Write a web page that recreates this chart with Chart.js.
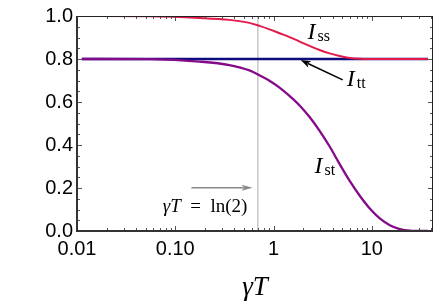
<!DOCTYPE html>
<html><head><meta charset="utf-8">
<script src="https://cdn.jsdelivr.net/npm/chart.js@4/dist/chart.umd.min.js"></script>
<style>html,body{margin:0;padding:0;background:#fff}#wrap{width:441px;height:307px;position:relative}</style>
</head><body><div id="wrap"><canvas id="c" width="441" height="307"></canvas></div>
<script>
// ---- data ----
const gammaT = [0.0112,0.0168,0.0543,0.176,0.356,0.569,0.720,0.910,1.152,1.456,1.843,2.330,2.947,3.728,4.715,5.96,7.55,9.54,12.07,15.27,19.3,24.4,37.3];
const Iss    = [1.000,1.000,0.999,0.991,0.982,0.968,0.954,0.938,0.920,0.902,0.881,0.861,0.842,0.826,0.814,0.805,0.801,0.800,0.800,0.800,0.800,0.800,0.800];
const Itt    = [0.800,0.800,0.800,0.800,0.800,0.800,0.800,0.800,0.800,0.800,0.800,0.800,0.800,0.800,0.800,0.800,0.800,0.800,0.800,0.800,0.800,0.800,0.800];
const Ist    = [0.800,0.800,0.799,0.788,0.772,0.747,0.724,0.699,0.667,0.628,0.584,0.530,0.466,0.393,0.311,0.233,0.164,0.105,0.059,0.027,0.009,0.002,0.000];
const xTicks = [0.01,0.1,1,10];
const xTickLabels = ['0.01','0.10','1','10'];
const yTicks = [0,0.2,0.4,0.6,0.8,1.0];
const yTickLabels = ['0.0','0.2','0.4','0.6','0.8','1.0'];
const xRange = [0.01, 42];
const markerValue = Math.LN2;       // gamma T = ln(2)
const markerText = ['\u03B3T', '\u2002=\u2002ln(2)'];
const xTitle = '\u03B3T';

// annotation anchors (data coordinates)
const notes = {
  ss: {x:2.22, y:0.895, main:'I', sub:'ss'},
  tt: {x:5.56, y:0.676, main:'I', sub:'tt'},
  st: {x:2.62, y:0.269, main:'I', sub:'st'},
  ttArrow: {from:[5.06,0.703], to:[1.89,0.795]},
  lnArrow: {from:[0.146,0.201], to:[0.611,0.201]},
  lnText: {x:0.543, y:0.087}
};

const pts = (ys) => gammaT.map((x,i)=>({x:x, y:ys[i]}));

function arrow(ctx, x1,y1,x2,y2,color,lw,hl,hw){
  const a = Math.atan2(y2-y1,x2-x1);
  ctx.save();
  ctx.strokeStyle=color; ctx.fillStyle=color; ctx.lineWidth=lw;
  ctx.beginPath(); ctx.moveTo(x1,y1); ctx.lineTo(x2-Math.cos(a)*hl*0.8,y2-Math.sin(a)*hl*0.8); ctx.stroke();
  ctx.beginPath();
  ctx.moveTo(x2,y2);
  ctx.lineTo(x2-Math.cos(a)*hl+Math.sin(a)*hw/2, y2-Math.sin(a)*hl-Math.cos(a)*hw/2);
  ctx.lineTo(x2-Math.cos(a)*hl*0.75, y2-Math.sin(a)*hl*0.75);
  ctx.lineTo(x2-Math.cos(a)*hl-Math.sin(a)*hw/2, y2-Math.sin(a)*hl+Math.cos(a)*hw/2);
  ctx.closePath(); ctx.fill();
  ctx.restore();
}

function subLabel(ctx, x, y, main, sub){
  ctx.save();
  ctx.fillStyle='#000'; ctx.textBaseline='alphabetic'; ctx.textAlign='left';
  ctx.font='italic 24px "Liberation Serif"';
  ctx.fillText(main,x,y);
  const w = ctx.measureText(main).width;
  ctx.font='16px "Liberation Serif"';
  ctx.fillText(sub,x+w+2,y+2);
  ctx.restore();
}

const framePlugin = {
  id:'frame',
  beforeDatasetsDraw(chart){
    const {ctx, chartArea:a, scales:{x,y}} = chart;
    const px = x.getPixelForValue(markerValue);
    ctx.save();
    ctx.strokeStyle='#c8c8c8'; ctx.lineWidth=1.5;
    ctx.beginPath(); ctx.moveTo(px,a.top); ctx.lineTo(px,a.bottom); ctx.stroke();
    ctx.restore();
  },
  afterDatasetsDraw(chart){
    const {ctx, chartArea:a, scales:{x,y}} = chart;
    ctx.save();
    // ticks
    ctx.strokeStyle='#555'; ctx.lineWidth=1;
    const yt=[];
    for(let i=0;i<yTicks.length;i++){ yt.push([yTicks[i],5]);
      if(i<yTicks.length-1){ const d=(yTicks[i+1]-yTicks[i])/4; for(let k=1;k<4;k++) yt.push([yTicks[i]+k*d,3]); } }
    yt.forEach(([v,l])=>{ const p=Math.round(y.getPixelForValue(v))+0.5;
      ctx.beginPath(); ctx.moveTo(a.left,p); ctx.lineTo(a.left+l,p);
      ctx.moveTo(a.right,p); ctx.lineTo(a.right-l,p); ctx.stroke(); });
    const xt=[];
    xTicks.forEach(d=>{ xt.push([d,5]); for(let k=2;k<10;k++) xt.push([d*k,3]); });
    xt.forEach(([v,l])=>{ if(v<xRange[0]||v>xRange[1]) return; const p=Math.round(x.getPixelForValue(v))+0.5;
      ctx.beginPath(); ctx.moveTo(p,a.bottom); ctx.lineTo(p,a.bottom-l);
      ctx.moveTo(p,a.top); ctx.lineTo(p,a.top+l); ctx.stroke(); });
    // frame
    ctx.strokeStyle='#222'; ctx.lineWidth=1;
    ctx.beginPath(); ctx.moveTo(a.left,a.top+0.5); ctx.lineTo(a.right-0.5,a.top+0.5); ctx.lineTo(a.right-0.5,a.bottom); ctx.stroke();
    ctx.strokeStyle='#333'; ctx.lineWidth=2;
    ctx.beginPath(); ctx.moveTo(a.left,a.top); ctx.lineTo(a.left,a.bottom); ctx.lineTo(a.right,a.bottom); ctx.stroke();
    // annotations
    const X=v=>x.getPixelForValue(v), Y=v=>y.getPixelForValue(v);
    ['ss','tt','st'].forEach(k=>{ const n=notes[k]; subLabel(ctx,X(n.x),Y(n.y),n.main,n.sub); });
    const ta=notes.ttArrow; arrow(ctx,X(ta.from[0]),Y(ta.from[1]),X(ta.to[0]),Y(ta.to[1]),'#000',1.5,10,7);
    const la=notes.lnArrow; arrow(ctx,X(la.from[0]),Y(la.from[1]),X(la.to[0]),Y(la.to[1]),'#888',1.5,11,6);
    // gamma T = ln(2)
    const lt=notes.lnText;
    ctx.fillStyle='#000'; ctx.textBaseline='alphabetic'; ctx.textAlign='left';
    ctx.font='italic 19px "Liberation Serif"'; const w1=ctx.measureText(markerText[0]).width;
    ctx.font='19px "Liberation Serif"'; const w2=ctx.measureText(markerText[1]).width;
    let sx=X(lt.x)-(w1+w2);
    ctx.font='italic 19px "Liberation Serif"'; ctx.fillText(markerText[0],sx,Y(lt.y));
    ctx.font='19px "Liberation Serif"'; ctx.fillText(markerText[1],sx+w1,Y(lt.y));
    ctx.restore();
  }
};

new Chart(document.getElementById('c'), {
  type:'line',
  data:{datasets:[
    {label:'Iss', data:pts(Iss), borderColor:'#e3194b', borderWidth:2},
    {label:'Ist', data:pts(Ist), borderColor:'#850a8a', borderWidth:2.3},
    {label:'Itt', data:pts(Itt), borderColor:'#0c0c80', borderWidth:2.6}
  ]},
  options:{
    responsive:false, animation:false, devicePixelRatio:1,
    layout:{padding:{top:12,right:8,left:0,bottom:0}},
    elements:{point:{radius:0}, line:{cubicInterpolationMode:'monotone', fill:false}},
    plugins:{legend:{display:false}, tooltip:{enabled:false}},
    scales:{
      x:{type:'logarithmic', min:xRange[0], max:xRange[1],
         afterBuildTicks(s){ s.ticks = xTicks.map(v=>({value:v})); },
         afterFit(s){ s.height = 76; },
         grid:{display:false, drawTicks:false}, border:{display:false},
         ticks:{autoSkip:false, maxRotation:0, padding:6, color:'#000',
                font:{family:'"Liberation Sans", Arial', size:20},
                callback:(v,i)=>xTickLabels[i]},
         title:{display:true, text:xTitle, color:'#000', padding:{top:0,bottom:3},
                font:{family:'"Liberation Serif"', style:'italic', size:27}}
      },
      y:{type:'linear', min:0, max:1,
         afterBuildTicks(s){ s.ticks = yTicks.map(v=>({value:v})); },
         afterFit(s){ s.width = 77; },
         grid:{display:false, drawTicks:false}, border:{display:false},
         ticks:{padding:4, color:'#000', font:{family:'"Liberation Sans", Arial', size:20},
                callback:(v,i)=>yTickLabels[i]}
      }
    }
  },
  plugins:[framePlugin]
});
</script>
</body></html>
